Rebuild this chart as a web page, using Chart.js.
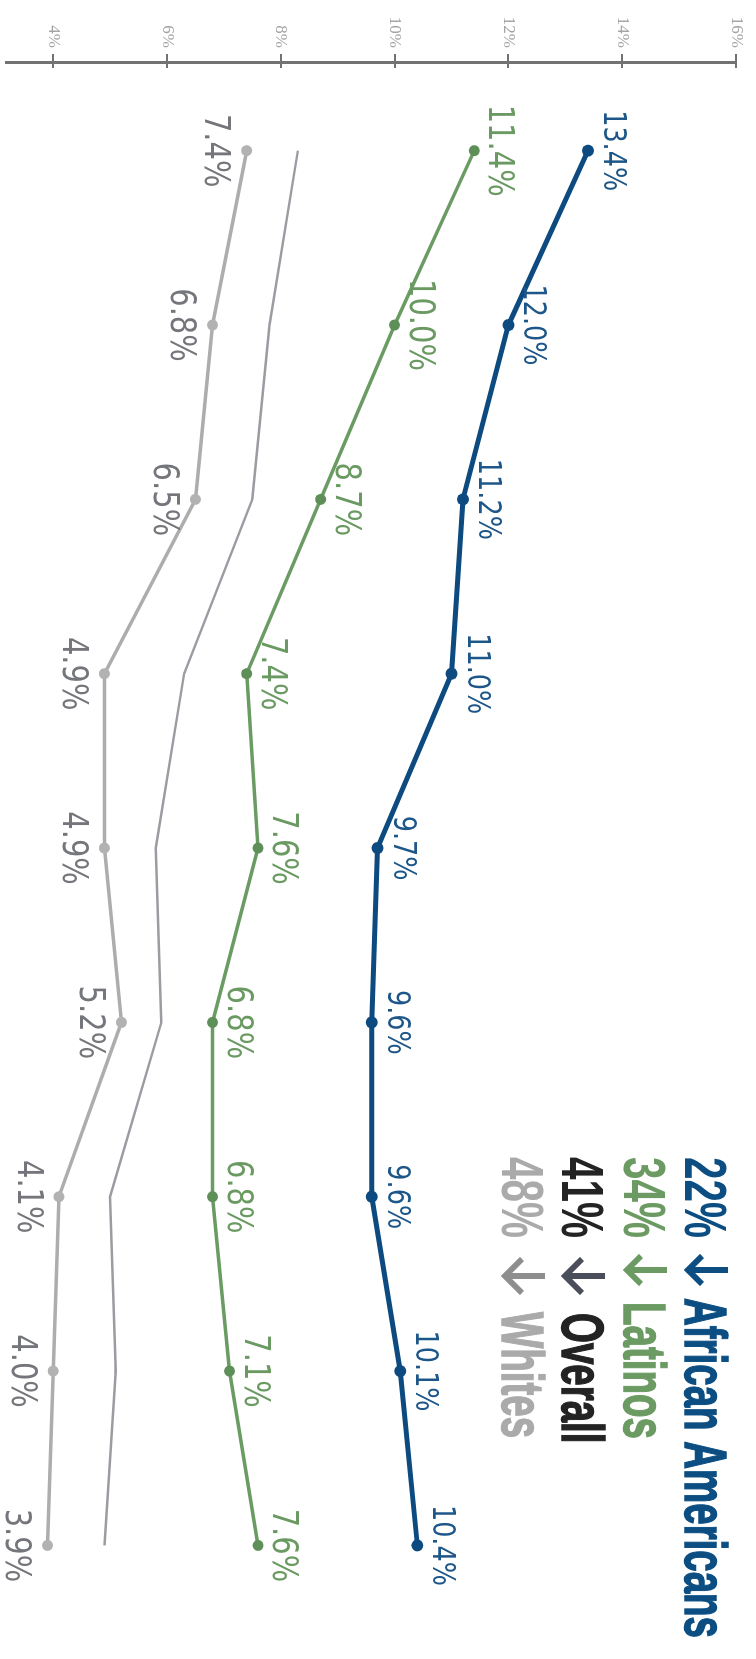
<!DOCTYPE html>
<html>
<head>
<meta charset="utf-8">
<script src="https://cdn.jsdelivr.net/npm/chart.js@4.4.1/dist/chart.umd.min.js"></script>
<style>
  html, body { margin: 0; padding: 0; background: #fff; overflow: hidden; }
  body { width: 756px; height: 1659px; position: relative; }
  /* chart is drawn landscape and turned a quarter clockwise */
  #wrap { position: absolute; left: 0; top: 0; width: 1659px; height: 756px;
          transform-origin: 0 0; transform: translateX(756px) rotate(90deg); }
</style>
</head>
<body>
<div id="wrap"><canvas id="hunger" width="1659" height="756"></canvas></div>
<script>
  // periods (axis labels are not shown in the picture)
  const periods = ["1", "2", "3", "4", "5", "6", "7", "8", "9"];

  const africanAmericans = [13.4, 12.0, 11.2, 11.0, 9.7, 9.6, 9.6, 10.1, 10.4];
  const latinos = [11.4, 10.0, 8.7, 7.4, 7.6, 6.8, 6.8, 7.1, 7.6];
  const overall = [8.3, 7.8, 7.5, 6.3, 5.8, 5.9, 5.0, 5.1, 4.9];
  const whites = [7.4, 6.8, 6.5, 4.9, 4.9, 5.2, 4.1, 4.0, 3.9];

  const tickValues = [4, 6, 8, 10, 12, 14, 16];

  const legendRows = [
    { pct: "22%", name: "African Americans", color: "#0c4e82", arrow: "#0c4e82", base: 71, arrowX: 1270, arrowW: 14, nameX: 1298 },
    { pct: "34%", name: "Latinos", color: "#6b9b63", arrow: "#6b9b63", base: 132, arrowX: 1270, arrowW: 14, nameX: 1302 },
    { pct: "41%", name: "Overall", color: "#232323", arrow: "#4a4e5a", base: 194, arrowX: 1276, arrowW: 17, nameX: 1313 },
    { pct: "48%", name: "Whites", color: "#aaaaaa", arrow: "#8e8e8e", base: 254, arrowX: 1276, arrowW: 17, nameX: 1312 }
  ];

  const toPoints = vals => vals.map((v, i) => ({ x: i, y: v }));

  function squeezed(ctx, text, x, y, sx, stroke) {
    ctx.save();
    ctx.translate(x, y);
    ctx.scale(sx, 1);
    ctx.fillText(text, 0, 0);
    if (stroke) ctx.strokeText(text, 0, 0);
    ctx.restore();
  }

  // value labels next to each point
  const pointLabels = {
    id: "pointLabels",
    afterDatasetsDraw(chart) {
      const ctx = chart.ctx;
      chart.data.datasets.forEach((ds, di) => {
        const st = ds.labelStyle;
        if (!st) return;
        const meta = chart.getDatasetMeta(di);
        ctx.save();
        ctx.font = st.size + "px 'DejaVu Sans', sans-serif";
        ctx.fillStyle = st.color;
        ctx.textAlign = "center";
        ctx.textBaseline = "alphabetic";
        // five-character labels are st.width wide in the picture
        const sx = st.width / ctx.measureText("13.4%").width;
        meta.data.forEach((pt, i) => {
          const text = ds.data[i].y.toFixed(1) + "%";
          const base = st.below ? pt.y + st.gap + st.size * 0.73 : pt.y - st.gap;
          squeezed(ctx, text, pt.x, base, sx);
        });
        ctx.restore();
      });
    }
  };

  // big legend with the drop in each group, and the short inner half of the axis ticks
  const sideLegend = {
    id: "sideLegend",
    afterDraw(chart) {
      const ctx = chart.ctx;
      ctx.save();
      const y = chart.scales.y;
      ctx.strokeStyle = "#727272";
      ctx.lineWidth = 2;
      ctx.beginPath();
      tickValues.forEach(v => {
        const p = Math.round(y.getPixelForValue(v));
        ctx.moveTo(y.right, p);
        ctx.lineTo(y.right + 6, p);
      });
      ctx.stroke();

      ctx.font = "bold 60px 'Liberation Sans Narrow', 'Liberation Sans', sans-serif";
      ctx.textAlign = "left";
      ctx.textBaseline = "alphabetic";
      const pctScale = 81 / ctx.measureText("22%").width;
      const nameScale = 340 / ctx.measureText("African Americans").width;
      legendRows.forEach(r => {
        ctx.fillStyle = r.color;
        ctx.strokeStyle = r.color;
        ctx.lineWidth = 1.5;
        squeezed(ctx, r.pct, 1157, r.base, pctScale, false);
        squeezed(ctx, r.name, r.nameX, r.base, nameScale, true);

        ctx.beginPath();
        ctx.moveTo(r.arrowX, r.base - 43);
        ctx.lineTo(r.arrowX, r.base - 3);
        ctx.moveTo(r.arrowX - r.arrowW, r.base - 3 - r.arrowW);
        ctx.lineTo(r.arrowX, r.base - 3);
        ctx.lineTo(r.arrowX + r.arrowW, r.base - 3 - r.arrowW);
        ctx.lineWidth = 6;
        ctx.strokeStyle = r.arrow;
        ctx.stroke();
      });
      ctx.restore();
    }
  };

  const data = {
    labels: periods,
    datasets: [
      {
        label: "Overall",
        data: toPoints(overall),
        borderColor: "#9c9ba2",
        borderWidth: 2.5,
        pointRadius: 0,
        tension: 0
      },
      {
        label: "Whites",
        data: toPoints(whites),
        borderColor: "#adadad",
        backgroundColor: "#b2b2b2",
        borderWidth: 3.5,
        pointRadius: 5.5,
        pointBorderWidth: 0,
        tension: 0,
        labelStyle: { color: "#75767b", size: 36, width: 92, gap: 15, below: true }
      },
      {
        label: "Latinos",
        data: toPoints(latinos),
        borderColor: "#6a9b63",
        backgroundColor: "#5f8f59",
        borderWidth: 3.5,
        pointRadius: 5.5,
        pointBorderWidth: 0,
        tension: 0,
        labelStyle: { color: "#6a9a62", size: 36, width: 92, gap: 15, below: false }
      },
      {
        label: "African Americans",
        data: toPoints(africanAmericans),
        borderColor: "#0c4a7f",
        backgroundColor: "#0c4a7f",
        borderWidth: 5,
        pointRadius: 6,
        pointBorderWidth: 0,
        tension: 0,
        labelStyle: { color: "#1d5688", size: 32, width: 81, gap: 16, below: false }
      }
    ]
  };

  const options = {
    responsive: false,
    animation: false,
    layout: { padding: { top: 20, right: 0, bottom: 0, left: 0 } },
    scales: {
      x: {
        type: "linear",
        display: false,
        min: -0.5086,
        max: 8.617
      },
      y: {
        position: "left",
        min: 3.17,
        max: 16,
        afterBuildTicks: axis => { axis.ticks = tickValues.map(v => ({ value: v })); },
        afterFit: axis => {
          axis.width = 62;
          axis.paddingTop = 0;
          axis.paddingBottom = 0;
        },
        border: { color: "#727272", width: 3 },
        grid: { drawOnChartArea: false, tickLength: 8, color: "#727272", lineWidth: 2 },
        ticks: {
          padding: 6,
          color: "#a3a3a3",
          font: { family: "Liberation Serif", size: 17 },
          callback: v => v + "%"
        }
      }
    },
    plugins: {
      legend: { display: false },
      tooltip: { enabled: false }
    }
  };

  const ctx = document.getElementById("hunger").getContext("2d");
  new Chart(ctx, {
    type: "line",
    data: data,
    options: options,
    plugins: [pointLabels, sideLegend]
  });
</script>
</body>
</html>
